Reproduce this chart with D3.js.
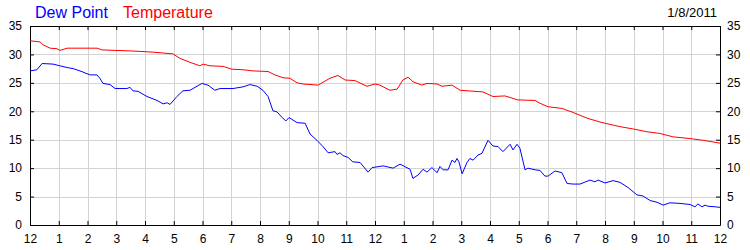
<!DOCTYPE html>
<html>
<head>
<meta charset="utf-8">
<script src="https://cdn.jsdelivr.net/npm/d3@7"></script>
<style>
    body { margin: 0; background: #fff; }
    #chart-area { width: 750px; height: 250px; }
    text { font-family: Arial, "Liberation Sans", sans-serif; }
</style>
</head>
<body>
<div id="chart-area"></div>
<script>
// hourly readings for 1/8/2011, hours since midnight
let tempHours = [0, 0.35, 0.45, 0.7, 0.94, 1.04, 1.29, 2.33, 2.5, 3.58, 4.28, 4.97, 5.22, 5.57, 5.91, 6.02, 6.26,
    6.71, 7.03, 7.41, 7.76, 8.28, 8.52, 8.8, 9.04, 9.29, 9.5, 10.02, 10.43, 10.71, 10.96, 11.3, 11.72, 12.0, 12.17,
    12.52, 12.77, 12.97, 13.15, 13.32, 13.63, 13.81, 14.16, 14.33, 14.68, 14.96, 15.76, 16.1, 16.52, 16.97, 17.57,
    17.74, 18.02, 18.5, 18.89, 19.37, 19.83, 20.52, 20.97, 21.46, 21.91, 22.37, 22.96, 23.41, 24.0];
let tempValues = [32.4, 32.2, 31.7, 31.1, 31.0, 30.7, 31.1, 31.1, 30.8, 30.6, 30.4, 30.1, 29.3, 28.6, 28.0, 28.3, 28.0,
    27.9, 27.4, 27.3, 27.1, 27.0, 26.4, 25.9, 25.8, 25.0, 24.8, 24.6, 25.8, 26.3, 25.5, 25.4, 24.4, 24.8, 24.6,
    23.7, 23.9, 25.5, 26.0, 25.2, 24.6, 24.9, 24.8, 24.4, 24.6, 23.7, 23.4, 22.6, 22.7, 22.0, 21.9,
    21.4, 20.8, 20.5, 19.8, 18.8, 18.1, 17.3, 16.9, 16.4, 16.1, 15.5, 15.2, 14.9, 14.4];

let dewHours = [0, 0.24, 0.42, 0.8, 1.04, 1.29, 1.5, 1.74, 2.09, 2.33, 2.43, 2.54, 2.78, 2.96, 3.37, 3.48, 3.58, 3.76,
    4.07, 4.42, 4.63, 4.77, 4.87, 5.11, 5.32, 5.57, 5.74, 5.98, 6.19, 6.43, 6.61, 7.06, 7.41, 7.65, 7.9, 8.1, 8.28,
    8.45, 8.59, 8.77, 8.9, 9.01, 9.29, 9.57, 9.74, 9.98, 10.19, 10.37, 10.61, 10.68, 10.78, 10.89, 11.06, 11.23,
    11.48, 11.76, 11.9, 12.17, 12.28, 12.63, 12.87, 13.22, 13.32, 13.5, 13.67, 13.81, 13.98, 14.16, 14.26, 14.37,
    14.54, 14.68, 14.78, 14.85, 14.92, 15.03, 15.2, 15.3, 15.41, 15.58, 15.72, 15.93, 16.1, 16.28, 16.45, 16.7,
    16.8, 16.94, 17.04, 17.22, 17.32, 17.57, 17.74, 17.91, 18.02, 18.26, 18.5, 18.68, 18.89, 19.13, 19.48, 19.65,
    19.76, 20.0, 20.28, 20.52, 20.8, 21.11, 21.32, 21.57, 21.81, 22.02, 22.26, 22.61, 22.96, 23.13, 23.23, 23.37,
    23.48, 23.58, 23.83, 24.0];
let dewValues = [27.1, 27.3, 28.4, 28.3, 28.0, 27.7, 27.5, 27.1, 26.4, 26.4, 25.8, 24.9, 24.7, 24.0, 24.0, 24.2, 23.6, 23.5,
    22.6, 21.9, 21.3, 21.5, 21.2, 22.6, 23.6, 23.7, 24.2, 24.9, 24.6, 23.7, 24.0, 24.0, 24.3, 24.7, 24.4, 23.7, 22.6,
    20.1, 19.9, 18.9, 18.3, 18.9, 18.0, 17.9, 16.0, 14.9, 13.8, 12.7, 12.9, 12.4, 12.7, 12.2, 11.9, 11.1,
    11.0, 9.3, 10.1, 10.3, 10.4, 10.0, 10.7, 9.8, 8.2, 8.8, 9.8, 9.3, 10.1, 9.2, 10.3, 9.7,
    9.7, 11.4, 11.0, 11.7, 11.1, 9.0, 11.0, 11.7, 11.4, 12.3, 12.6, 14.9, 13.9, 13.8, 12.9, 14.2,
    13.2, 14.2, 13.5, 9.7, 10.0, 9.7, 9.6, 8.6, 8.6, 9.5, 9.2, 7.3, 7.2, 7.2, 7.9, 7.6,
    7.9, 7.4, 7.8, 7.5, 6.6, 5.3, 5.1, 4.3, 4.0, 3.5, 3.9, 3.8, 3.6, 3.2, 3.7, 3.2,
    3.5, 3.3, 3.2, 3.1];

let hourLabels = ["12", "1", "2", "3", "4", "5", "6", "7", "8", "9", "10", "11",
    "12", "1", "2", "3", "4", "5", "6", "7", "8", "9", "10", "11", "12"];
let yTicks = [0, 5, 10, 15, 20, 25, 30, 35];
let seriesNames = ["Dew Point", "Temperature"];
let seriesColors = ["#0000ff", "#ff0000"];
let dateLabel = "1/8/2011";

class WeatherViz {
    constructor (parentElement) {
        this.parentElement = parentElement;
    }

    initViz() {
        let vis = this;

        vis.margin = {top: 26, right: 30, bottom: 25, left: 30};
        vis.width = 750 - vis.margin.left - vis.margin.right;
        vis.height = 250 - vis.margin.top - vis.margin.bottom;

        vis.root = d3.select("#" + vis.parentElement).append("svg")
            .attr("width", 750)
            .attr("height", 250);

        vis.svg = vis.root.append("g")
            .attr("transform", "translate(" + vis.margin.left + "," + vis.margin.top + ")");

        vis.x = d3.scaleLinear().domain([0, 24]).range([0, vis.width]);
        vis.y = d3.scaleLinear().domain([0, 35]).range([vis.height, 0]);

        vis.wrangleData();
    }

    wrangleData() {
        let vis = this;
        vis.dew = dewHours.map((h, i) => [h, dewValues[i]]);
        vis.temp = tempHours.map((h, i) => [h, tempValues[i]]);
        vis.updateViz();
    }

    updateViz() {
        let vis = this;

        // grid
        let grid = vis.svg.append("g").attr("class", "grid")
            .attr("stroke", "#d3d3d3").attr("stroke-width", 1);
        grid.selectAll(".vgrid")
            .data(d3.range(1, 24))
            .enter().append("line")
            .attr("x1", d => Math.round(vis.x(d)) + 0.5)
            .attr("x2", d => Math.round(vis.x(d)) + 0.5)
            .attr("y1", 0).attr("y2", vis.height);
        grid.selectAll(".hgrid")
            .data(yTicks.slice(1, -1))
            .enter().append("line")
            .attr("y1", d => Math.round(vis.y(d)) + 0.5)
            .attr("y2", d => Math.round(vis.y(d)) + 0.5)
            .attr("x1", 0).attr("x2", vis.width);

        // axes, ticks pointing inside the frame
        let xBottom = d3.axisBottom(vis.x).tickValues(d3.range(0, 25))
            .tickFormat(d => hourLabels[d]).tickSizeInner(-4).tickSizeOuter(0).tickPadding(9);
        let xTop = d3.axisTop(vis.x).tickValues(d3.range(0, 25))
            .tickFormat("").tickSizeInner(-4).tickSizeOuter(0);
        let yLeft = d3.axisLeft(vis.y).tickValues(yTicks)
            .tickSizeInner(-4).tickSizeOuter(0).tickPadding(8);
        let yRight = d3.axisRight(vis.y).tickValues(yTicks)
            .tickSizeInner(-4).tickSizeOuter(0).tickPadding(7);

        vis.svg.append("g").attr("class", "x-axis axis")
            .attr("transform", "translate(0," + vis.height + ")").call(xBottom);
        vis.svg.append("g").attr("class", "x-axis-top axis").call(xTop);
        vis.svg.append("g").attr("class", "y-axis axis").call(yLeft);
        vis.svg.append("g").attr("class", "y-axis-right axis")
            .attr("transform", "translate(" + vis.width + ",0)").call(yRight);

        vis.svg.selectAll(".axis text")
            .style("font-size", "12px")
            .style("font-family", "Arial, 'Liberation Sans', sans-serif")
            .attr("fill", "#000");
        vis.svg.selectAll(".axis path, .axis line").attr("stroke", "#000");

        // lines
        vis.line = d3.line().x(d => vis.x(d[0])).y(d => vis.y(d[1]));
        vis.svg.selectAll(".series")
            .data([vis.dew, vis.temp])
            .enter().append("path")
            .attr("class", "series")
            .attr("d", d => vis.line(d))
            .style("fill", "none")
            .attr("stroke-width", 1)
            .attr("stroke", (d, i) => seriesColors[i]);

        // legend + date
        let legendX = [35, 123];
        vis.root.selectAll(".legend")
            .data(seriesNames)
            .enter().append("text")
            .attr("class", "legend")
            .attr("x", (d, i) => legendX[i])
            .attr("y", 18)
            .style("font-size", "16px")
            .attr("fill", (d, i) => seriesColors[i])
            .text(d => d);

        vis.root.append("text")
            .attr("x", 717).attr("y", 17)
            .attr("text-anchor", "end")
            .style("font-size", "13px")
            .attr("fill", "#000")
            .text(dateLabel);
    }
}

let weatherViz = new WeatherViz("chart-area");
weatherViz.initViz();
</script>
</body>
</html>
